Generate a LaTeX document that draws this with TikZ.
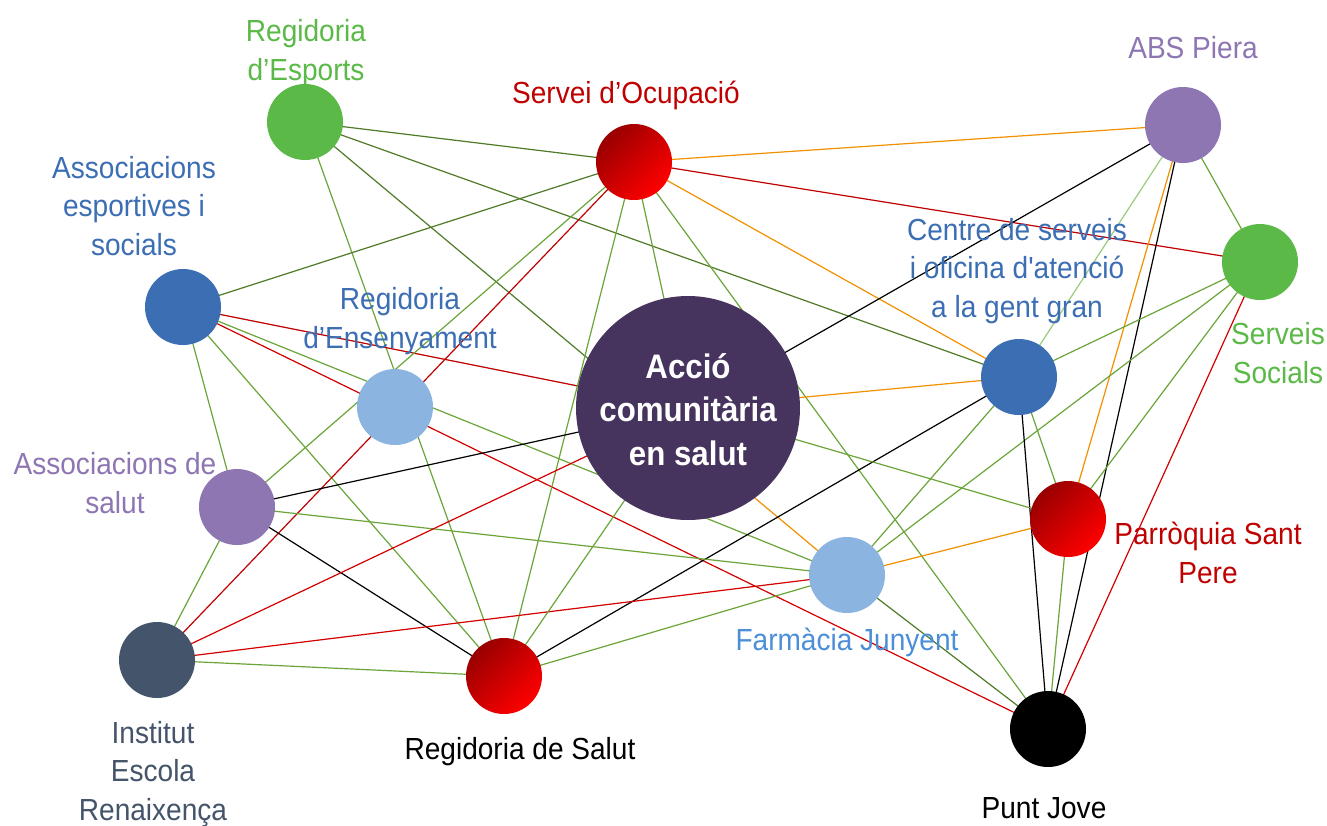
\documentclass[tikz,border=0pt]{standalone}
\usepackage{fontspec}
\setmainfont{Liberation Sans}[FakeStretch=0.92, Ligatures=TeXOff]
\usetikzlibrary{calc}
\definecolor{cgreen}{HTML}{5BBA47}
\definecolor{cdred}{HTML}{990000}
\definecolor{cred}{HTML}{FF0000}
\definecolor{lred}{HTML}{C00000}
\definecolor{cpurple}{HTML}{8E76B3}
\definecolor{cblue}{HTML}{3C6EB4}
\definecolor{lblue}{HTML}{8CB4E0}
\definecolor{fblue}{HTML}{4C8FD8}
\definecolor{cdark}{HTML}{46345F}
\definecolor{cslate}{HTML}{44546A}
\definecolor{edg}{HTML}{4F7B28}
\definecolor{eg}{HTML}{6BA539}
\definecolor{elg}{HTML}{9CCB7A}
\definecolor{er}{HTML}{D40000}
\definecolor{eo}{HTML}{F29100}
\tikzset{
  dot/.style={circle, minimum size=76pt, inner sep=0pt, draw=none},
  gdot/.style={dot, top color=cdred, bottom color=cred, shading angle=45},
  lbl/.style={font=\fontsize{30.5}{38.5}\selectfont, align=center, anchor=base, inner sep=0pt},
  edge/.style={line width=1.2pt},
  Edg/.style={edge, draw=edg},
  Eg/.style={edge, draw=eg},
  Elg/.style={edge, draw=elg},
  Er/.style={edge, draw=er},
  Edr/.style={edge, draw=lred},
  Eo/.style={edge, draw=eo},
  Ek/.style={edge, draw=black},
}
\begin{document}
\begin{tikzpicture}[x=1pt,y=-1pt]
\fill[white] (0,0) rectangle (1327,825);
\useasboundingbox (0,0) rectangle (1327,825);
% node positions
\coordinate (pE) at (305,122);
\coordinate (pO) at (634,162);
\coordinate (pA) at (1183,125);
\coordinate (pSS) at (1260,262);
\coordinate (pAE) at (183,307);
\coordinate (pRE) at (395,407);
\coordinate (pC) at (688,408);
\coordinate (pCS) at (1019,377);
\coordinate (pAS) at (237,507);
\coordinate (pP) at (1068,519);
\coordinate (pF) at (847,575);
\coordinate (pI) at (157,660);
\coordinate (pRS) at (504,676);
\coordinate (pPJ) at (1048,729);
% edges
\draw[Edg] (pE) -- (pO);
\draw[Edg] (pE) -- (pCS);
\draw[Edg] (pE) -- ($(pE)!0.7!(pF)$);
\draw[Eo] ($(pE)!0.7!(pF)$) -- (pF);
\draw[Eg] (pE) -- (pRS);
\draw[Edg] (pAE) -- (pO);
\draw[Edr] (pAE) -- (pC);
\draw[Eg] (pAE) -- (pF);
\draw[Er] (pAE) -- (pPJ);
\draw[Eg] (pAE) -- (pAS);
\draw[Eg] (pAE) -- (pRS);
\draw[Eg] (pO) -- (pAS);
\draw[Edr] (pO) -- (pI);
\draw[Eg] (pO) -- (pRS);
\draw[Eg] (pO) -- (pC);
\draw[Eg] (pO) -- (pPJ);
\draw[Eo] (pO) -- (pCS);
\draw[Eo] (pO) -- (pA);
\draw[Edr] (pO) -- (pSS);
\draw[Ek] (pA) -- (pC);
\draw[Elg] (pA) -- (pCS);
\draw[Eo] (pA) -- (pP);
\draw[Ek] (pA) -- (pPJ);
\draw[Eg] (pA) -- (pSS);
\draw[Eg] (pSS) -- (pCS);
\draw[Eg] (pSS) -- (pF);
\draw[Eg] (pSS) -- (pP);
\draw[Er] (pSS) -- (pPJ);
\draw[Eo] (pCS) -- (pC);
\draw[Ek] (pCS) -- (pRS);
\draw[Eg] (pCS) -- (pF);
\draw[Eg] (pCS) -- (pP);
\draw[Ek] (pCS) -- (pPJ);
\draw[Eg] (pC) -- (pP);
\draw[Ek] (pAS) -- (pC);
\draw[Eg] (pAS) -- (pF);
\draw[Ek] (pAS) -- (pRS);
\draw[Eg] (pAS) -- (pI);
\draw[Er] (pI) -- (pC);
\draw[Er] (pI) -- (pF);
\draw[Eg] (pI) -- (pRS);
\draw[Eg] (pRS) -- (pC);
\draw[Eg] (pRS) -- (pF);
\draw[Eo] (pF) -- (pP);
\draw[Edg] (pF) -- (pPJ);
\draw[Eg] (pP) -- (pPJ);
% nodes
\node[dot, fill=cgreen] (E) at (pE) {};
\node[gdot] (O) at (pO) {};
\node[dot, fill=cpurple] (A) at (pA) {};
\node[dot, fill=cgreen] (SS) at (pSS) {};
\node[dot, fill=cblue] (AE) at (pAE) {};
\node[dot, fill=lblue] (RE) at (pRE) {};
\node[dot, fill=cblue] (CS) at (pCS) {};
\node[dot, fill=cpurple] (AS) at (pAS) {};
\node[gdot] (P) at (pP) {};
\node[dot, fill=lblue] (F) at (pF) {};
\node[dot, fill=cslate] (I) at (pI) {};
\node[gdot] (RS) at (pRS) {};
\node[dot, fill=black] (PJ) at (pPJ) {};
\node[circle, minimum size=224pt, inner sep=0pt, fill=cdark] (C) at (pC) {};
% labels (base = baseline of the last line)
\node[lbl, text=white, font=\fontsize{34}{43.5}\selectfont\bfseries] (tC) at (688,465) {Acció\\comunitària\\en salut};
\node[lbl, text=cgreen] (tE) at (306,80) {Regidoria\\d’Esports};
\node[lbl, text=lred] (tO) at (626,103) {Servei d’Ocupació};
\node[lbl, text=cpurple] (tA) at (1193,58) {ABS Piera};
\node[lbl, text=cblue] (tAE) at (134,255) {Associacions\\esportives i\\socials};
\node[lbl, text=cblue] (tRE) at (400,348) {Regidoria\\d’Ensenyament};
\node[lbl, text=cblue] (tCS) at (1017,317) {Centre de serveis\\i oficina d'atenció\\a la gent gran};
\node[lbl, text=cgreen] (tSS) at (1278,383) {Serveis\\Socials};
\node[lbl, text=cpurple] (tAS) at (115,513) {Associacions de\\salut};
\node[lbl, text=lred] (tP) at (1208,583) {Parròquia Sant\\Pere};
\node[lbl, text=fblue] (tF) at (847,650) {Farmàcia Junyent};
\node[lbl, text=cslate] (tI) at (153,820) {Institut\\Escola\\Renaixença};
\node[lbl, text=black] (tRS) at (520,759) {Regidoria de Salut};
\node[lbl, text=black] (tPJ) at (1044,818) {Punt Jove};
\end{tikzpicture}
\end{document}
